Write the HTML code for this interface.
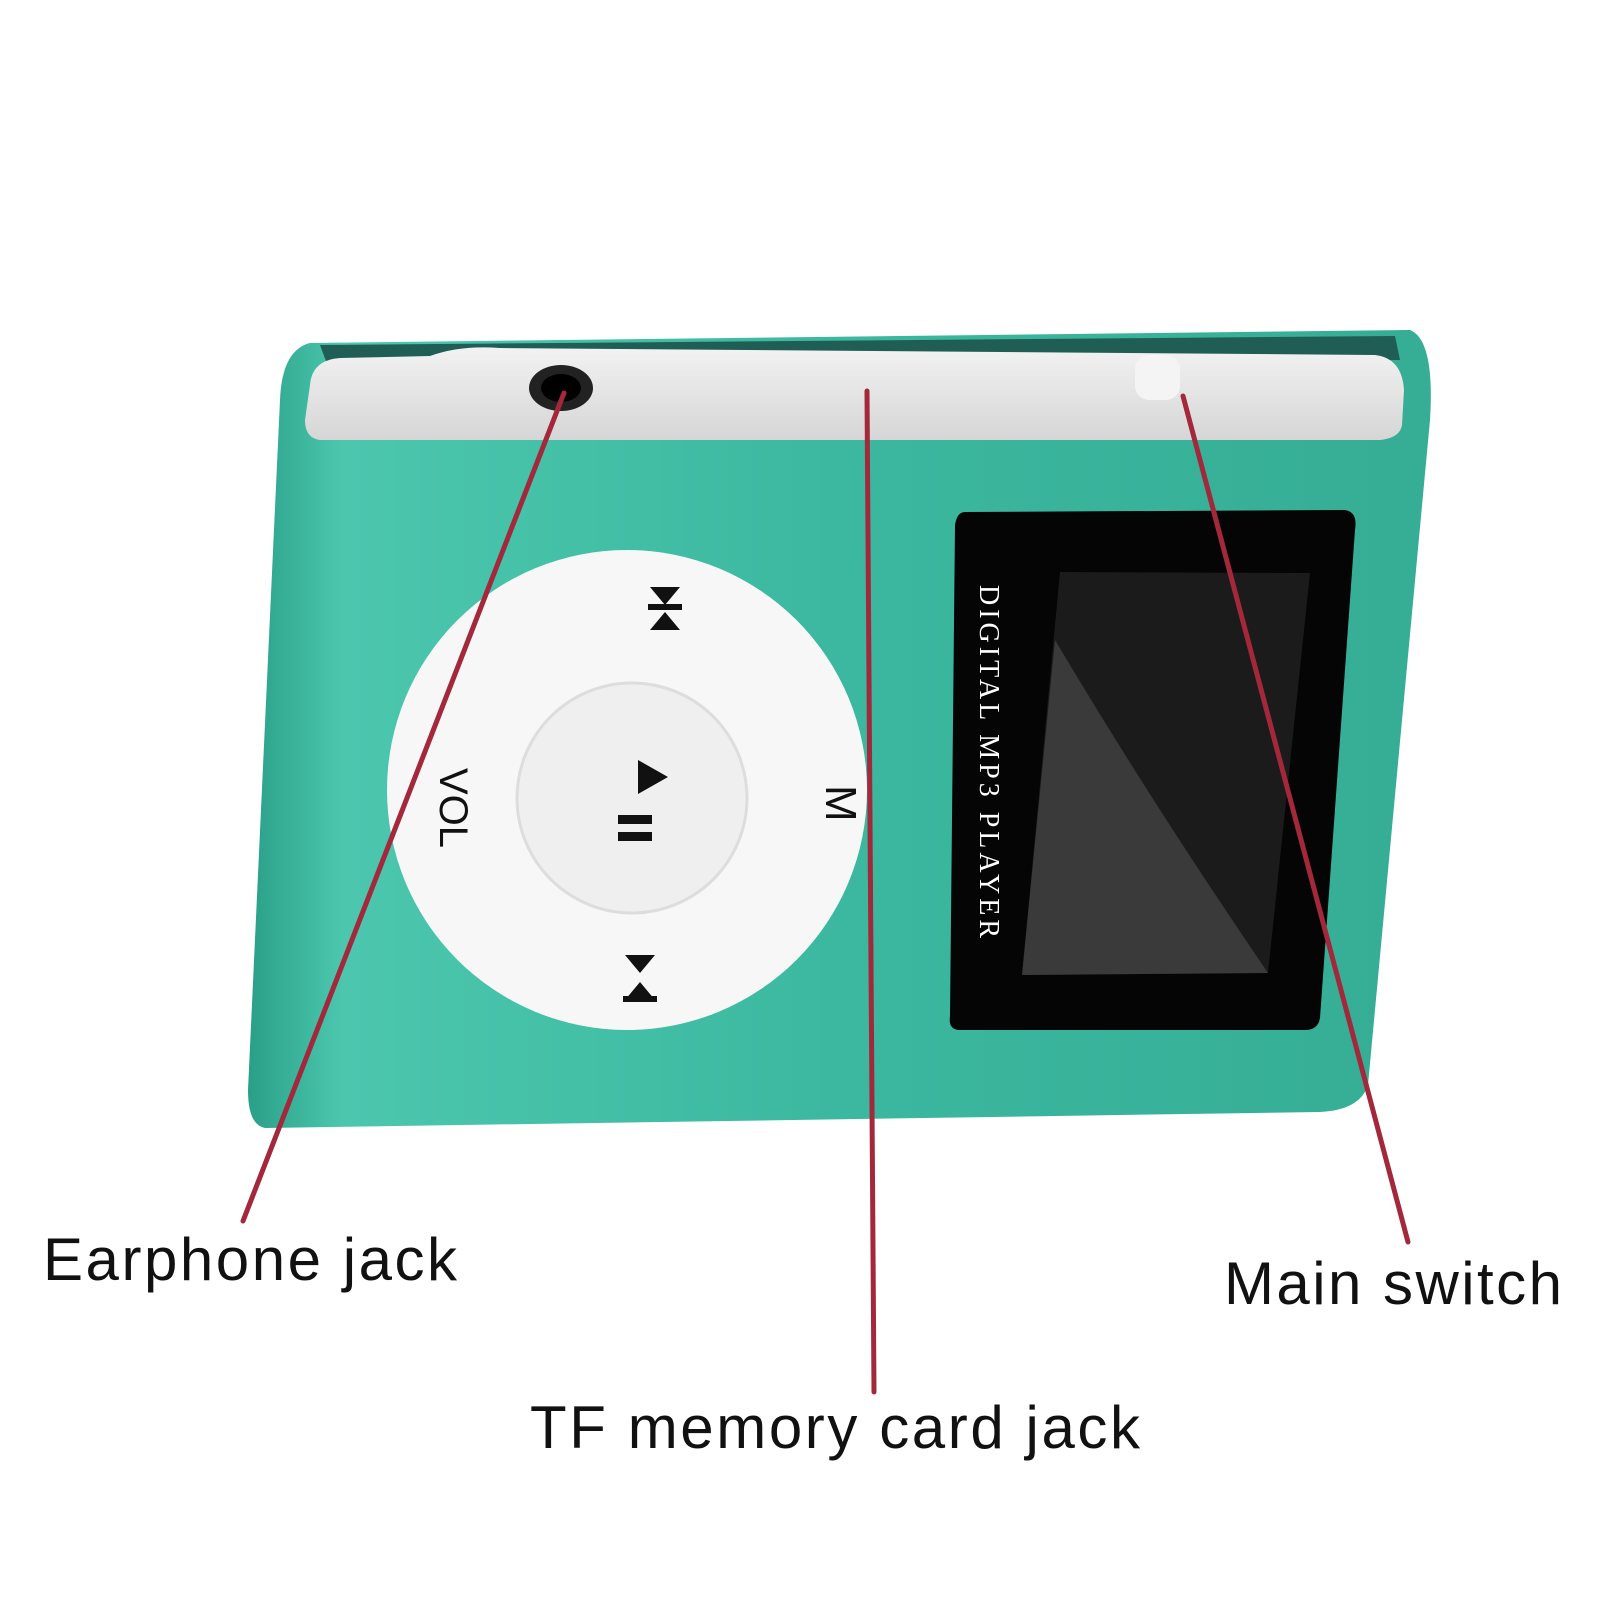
<!DOCTYPE html>
<html><head><style>html,body{margin:0;padding:0;background:#fff}svg{display:block}</style></head>
<body>
<svg width="1600" height="1600" viewBox="0 0 1600 1600" xmlns="http://www.w3.org/2000/svg">
<defs>
<linearGradient id="g" x1="0" y1="0" x2="1" y2="0">
<stop offset="0" stop-color="#2a9f88"/><stop offset="0.08" stop-color="#4cc7ae"/><stop offset="0.5" stop-color="#3bb89f"/><stop offset="1" stop-color="#36ad95"/>
</linearGradient>
<linearGradient id="s" x1="0" y1="0" x2="0" y2="1">
<stop offset="0" stop-color="#f2f2f2"/><stop offset="1" stop-color="#d6d6d6"/>
</linearGradient>
</defs>
<path d="M310,343 L1410,330 Q1435,340 1430,420 L1368,1085 Q1360,1110 1320,1112 L265,1128 Q248,1125 248,1090 L280,400 Q282,350 310,343 Z" fill="url(#g)"/>
<path d="M320,345 L1395,336 L1400,360 L330,372 Z" fill="#1f5d55"/>
<path d="M310,385 Q312,360 340,358 L430,356 Q460,345 500,348 L1375,355 Q1402,358 1404,390 L1402,425 Q1400,438 1380,440 L320,440 Q305,438 305,420 Z" fill="url(#s)"/>
<ellipse cx="561" cy="388" rx="32" ry="23" fill="#222"/>
<ellipse cx="561" cy="388" rx="20" ry="14" fill="#000"/>
<rect x="1135" y="355" width="45" height="45" rx="14" fill="#f4f4f4"/>
<circle cx="627" cy="790" r="240" fill="#f7f7f7"/>
<circle cx="632" cy="798" r="115" fill="#efefef" stroke="#ddd" stroke-width="3"/>
<polygon points="638,760 668,777 638,794" fill="#111"/>
<rect x="618" y="815" width="34" height="9" fill="#111"/><rect x="618" y="832" width="34" height="9" fill="#111"/>
<polygon points="650,587 680,587 665,605" fill="#111"/><polygon points="650,630 680,630 665,612" fill="#111"/><rect x="648" y="604" width="34" height="6" fill="#111"/>
<polygon points="625,955 655,955 640,973" fill="#111"/><polygon points="625,1000 655,1000 640,982" fill="#111"/><rect x="623" y="996" width="34" height="6" fill="#111"/>
<text x="0" y="0" font-family="Liberation Sans, sans-serif" font-size="40" fill="#111" transform="translate(440,768) rotate(90)">VOL</text>
<text x="0" y="0" font-family="Liberation Sans, sans-serif" font-size="44" fill="#111" transform="translate(826,785) rotate(90)">M</text>
<path d="M965,512 L1345,510 Q1358,512 1355,530 L1320,1018 Q1318,1030 1305,1030 L960,1030 Q948,1030 950,1016 L955,525 Q957,512 965,512 Z" fill="#050505"/>
<path d="M1060,572 L1310,573 L1268,973 L1022,975 Z" fill="#1b1b1b"/>
<path d="M1055,640 Q1150,800 1268,973 L1022,975 Z" fill="#3a3a3a"/>
<text x="0" y="0" font-family="Liberation Serif, serif" font-size="28" fill="#fff" letter-spacing="4" transform="translate(980,585) rotate(90)">DIGITAL MP3 PLAYER</text>
<g stroke="#a3283c" stroke-width="5" stroke-linecap="round">
<line x1="564" y1="393" x2="243" y2="1221"/>
<line x1="867" y1="391" x2="874" y2="1392"/>
<line x1="1183" y1="396" x2="1408" y2="1242"/>
</g>
<g font-family="Liberation Sans, sans-serif" font-size="60" fill="#111">
<text x="43" y="1280" textLength="414">Earphone jack</text>
<text x="1224" y="1304" textLength="338">Main switch</text>
<text x="530" y="1448" textLength="610">TF memory card jack</text>
</g>
</svg>
</body></html>
